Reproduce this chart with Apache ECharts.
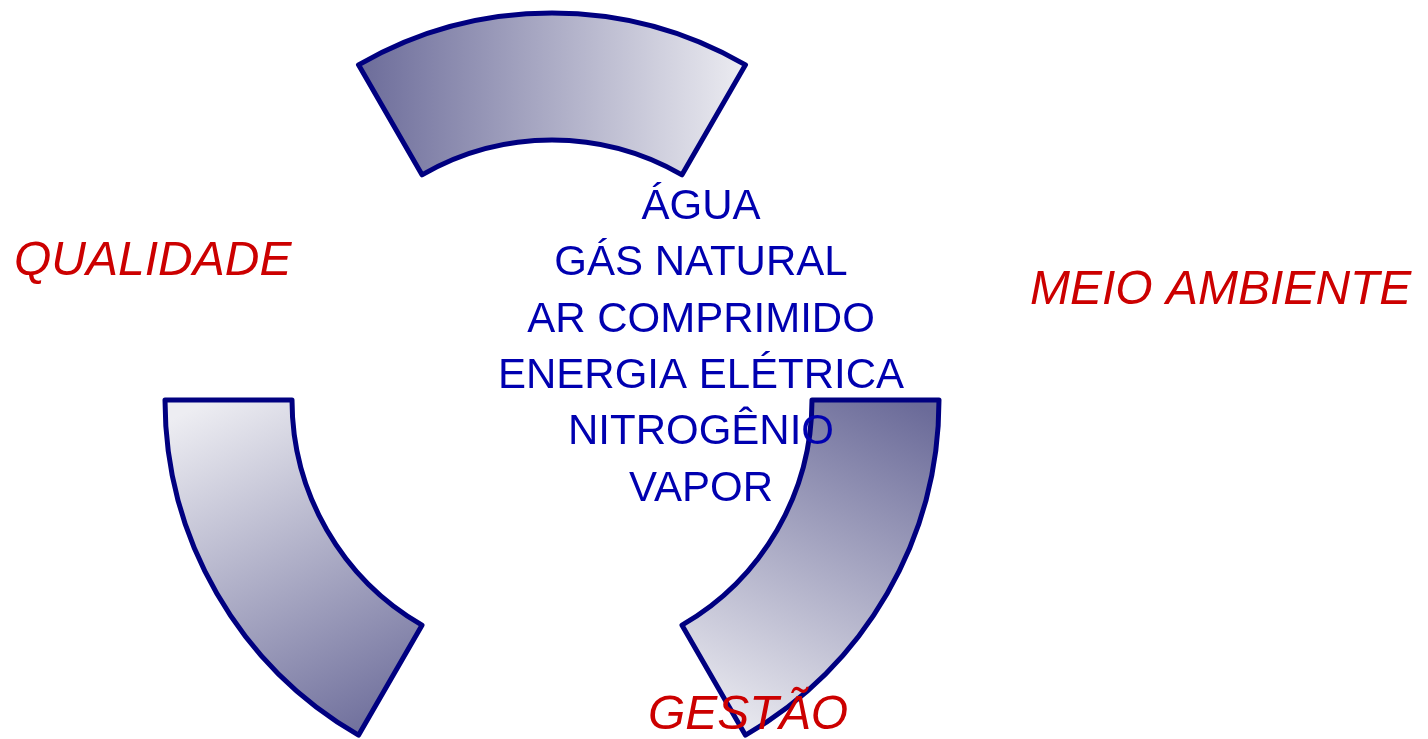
<!DOCTYPE html>
<html>
<head>
<meta charset="utf-8">
<script src="https://cdn.jsdelivr.net/npm/echarts@6/dist/echarts.min.js"></script>
<style>
  html, body { margin: 0; padding: 0; background: #fff; }
  #chart { width: 1428px; height: 739px; }
</style>
</head>
<body>
<div id="chart"></div>
<script>
// Three ring segments separated by equal gaps (clockwise from 120deg)
const segmentNames = ["topo", "vazio1", "direita", "vazio2", "esquerda", "vazio3"];
const segmentValues = [1, 1, 1, 1, 1, 1];
const centerLines = ["ÁGUA", "GÁS NATURAL", "AR COMPRIMIDO", "ENERGIA ELÉTRICA", "NITROGÊNIO", "VAPOR"];
const outerLabels = ["QUALIDADE", "MEIO AMBIENTE", "GESTÃO"];

const DARK = "#6b6b99";
const LIGHT = "#ededf2";
const NAVY = "#000080";

function grad(x0, y0, x1, y1) {
  return new echarts.graphic.LinearGradient(x0, y0, x1, y1, [
    { offset: 0, color: DARK },
    { offset: 1, color: LIGHT },
  ]);
}

const fills = {
  topo: grad(0, 0, 1, 0),
  direita: grad(0.85, 0, 0.2, 1),
  esquerda: grad(0.85, 1, 0.2, 0),
};

const data = segmentNames.map((name, i) => {
  const visible = name in fills;
  return {
    name,
    value: segmentValues[i],
    itemStyle: visible
      ? { color: fills[name], borderColor: NAVY, borderWidth: 5 }
      : { color: "rgba(0,0,0,0)", borderWidth: 0 },
  };
});

const chart = echarts.init(document.getElementById("chart"), null, { renderer: "canvas" });

const redText = {
  fill: "#cc0000",
  fontFamily: "Liberation Sans",
  fontStyle: "italic",
  fontSize: 48,
};

chart.setOption({
  animation: false,
  series: [
    {
      type: "pie",
      center: [552, 400],
      radius: [260, 387],
      startAngle: 120,
      clockwise: true,
      silent: true,
      label: { show: false },
      labelLine: { show: false },
      emphasis: { disabled: true },
      data,
    },
  ],
  graphic: [
    {
      type: "text",
      x: 701,
      y: 179,
      style: {
        text: centerLines.join("\n"),
        fill: "#0000b0",
        fontFamily: "Liberation Sans",
        fontSize: 42,
        lineHeight: 56.4,
        align: "center",
      },
      z: 10,
    },
    { type: "text", x: 14, y: 238, style: Object.assign({ text: outerLabels[0] }, redText), z: 10 },
    { type: "text", x: 1030, y: 267, style: Object.assign({ text: outerLabels[1] }, redText), z: 10 },
    { type: "text", x: 648, y: 692, style: Object.assign({ text: outerLabels[2] }, redText), z: 10 },
  ],
});
</script>
</body>
</html>
